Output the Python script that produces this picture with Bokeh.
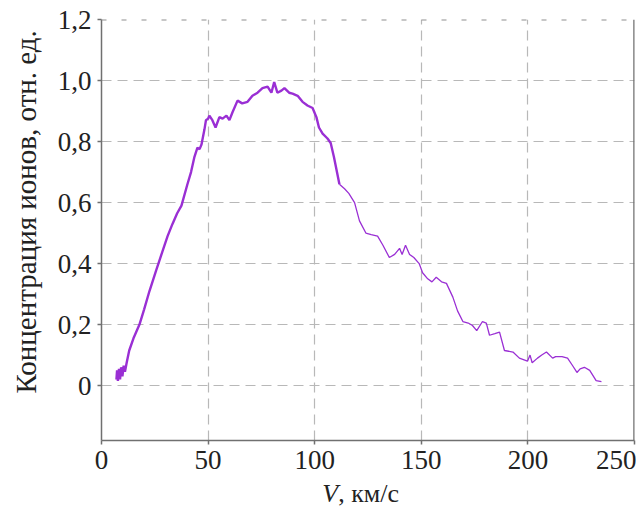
from bokeh.plotting import figure
from bokeh.layouts import column
from bokeh.models import Range1d, FixedTicker, CustomJSTickFormatter, Span
from bokeh.core.properties import value
from bokeh.embed import file_html
from bokeh.resources import INLINE

velocity = [7.0, 7.3, 7.7, 8.2, 8.7, 9.2, 9.8, 10.4, 11.0, 11.8, 13.0, 15.0, 17.8, 20.0,
            22.5, 25.6, 28.6, 31.0, 33.3, 35.5, 37.5, 40.3, 42.0, 43.6, 45.0, 46.0, 46.9,
            48.3, 49.0, 50.0, 50.6, 52.0, 53.5, 55.3, 56.8, 58.6, 60.0, 61.4, 63.8, 66.0,
            68.5, 70.8, 73.2, 75.5, 77.9, 79.7, 81.0, 82.5, 84.4, 85.8, 88.0, 89.6, 92.0,
            94.3, 96.6, 99.0, 100.8, 102.0, 103.7, 106.0, 107.5, 109.0, 111.6, 114.0,
            116.0, 118.7, 121.0, 124.0, 126.5, 129.5, 132.0, 135.0, 137.5, 139.8, 141.0,
            142.6, 144.5, 146.5, 149.0, 150.6, 153.0, 155.0, 157.0, 159.5, 161.8, 164.8,
            167.0, 169.5, 172.0, 174.0, 176.0, 178.7, 180.5, 182.0, 184.5, 186.7, 189.0,
            193.0, 196.0, 199.8, 201.0, 202.0, 204.5, 206.5, 208.7, 211.6, 213.0, 216.0,
            218.6, 221.0, 223.0, 224.5, 226.5, 229.0, 232.0, 234.5]
concentration = [0.02, 0.05, 0.015, 0.055, 0.02, 0.06, 0.03, 0.065, 0.045, 0.075, 0.115,
                 0.155, 0.20, 0.25, 0.31, 0.377, 0.44, 0.49, 0.53, 0.565, 0.59, 0.66, 0.70,
                 0.75, 0.78, 0.775, 0.79, 0.84, 0.87, 0.875, 0.885, 0.87, 0.846, 0.88, 0.875,
                 0.885, 0.87, 0.895, 0.934, 0.925, 0.93, 0.95, 0.96, 0.975, 0.98, 0.96, 0.995,
                 0.96, 0.967, 0.975, 0.96, 0.957, 0.95, 0.93, 0.918, 0.91, 0.88, 0.846, 0.826,
                 0.81, 0.795, 0.75, 0.66, 0.645, 0.63, 0.60, 0.54, 0.50, 0.495, 0.49, 0.46,
                 0.42, 0.43, 0.45, 0.43, 0.46, 0.43, 0.42, 0.40, 0.37, 0.35, 0.34, 0.355,
                 0.34, 0.335, 0.29, 0.245, 0.21, 0.205, 0.197, 0.18, 0.21, 0.205, 0.165,
                 0.17, 0.175, 0.115, 0.11, 0.09, 0.08, 0.10, 0.075, 0.09, 0.10, 0.11, 0.09,
                 0.095, 0.095, 0.09, 0.065, 0.043, 0.055, 0.06, 0.05, 0.016, 0.013]

x_ticks = [0, 50, 100, 150, 200, 250]
y_ticks = [0, 0.2, 0.4, 0.6, 0.8, 1.0, 1.2]
y_label = "\u00a0" * 5 + "Концентрация ионов, отн. ед."
x_label_var = ["V"]
x_label_unit = [", км/с"]
x_label_pos = [111.0]

FONT = "Liberation Serif"
AXIS_COLOR = "#707070"
GRID_COLOR = "#b8b8b8"
LINE_COLOR = "#9a2fd4"
TEXT_COLOR = "#222222"

W = 636
p = figure(width=W, height=478, output_backend="svg", toolbar_location=None,
           x_range=Range1d(0, 250), y_range=Range1d(-0.18, 1.2),
           min_border_left=101, min_border_right=2, min_border_top=19, min_border_bottom=38)
p.outline_line_color = None

p.xaxis.ticker = FixedTicker(ticks=x_ticks)
p.yaxis.ticker = FixedTicker(ticks=y_ticks)
p.yaxis.formatter = CustomJSTickFormatter(
    code='return tick == 0 ? "0" : tick.toFixed(1).replace(".", ",");')

for ax in (p.xaxis[0], p.yaxis[0]):
    ax.axis_line_color = AXIS_COLOR
    ax.axis_line_width = 1.5
    ax.major_tick_line_color = AXIS_COLOR
    ax.major_tick_line_width = 1.5
    ax.major_tick_out = 4
    ax.major_tick_in = 0
    ax.minor_tick_line_color = None
    ax.major_label_text_font = FONT
    ax.major_label_text_font_size = "27px"
    ax.major_label_text_color = TEXT_COLOR

p.xaxis.major_label_standoff = 6
p.yaxis.major_label_standoff = 6
p.yaxis.axis_label = y_label
p.yaxis.axis_label_text_font = FONT
p.yaxis.axis_label_text_font_size = "29px"
p.yaxis.axis_label_text_font_style = "normal"
p.yaxis.axis_label_text_color = TEXT_COLOR
p.yaxis.axis_label_standoff = 13

p.xgrid.ticker = FixedTicker(ticks=x_ticks)
p.ygrid.ticker = FixedTicker(ticks=y_ticks)
for g in (p.xgrid[0], p.ygrid[0]):
    g.grid_line_color = GRID_COLOR
    g.grid_line_dash = "10 6"
    g.grid_line_width = 1.2

# top dashed border and right solid border
p.add_layout(Span(location=1.2, dimension="width", line_color="#909090",
                  line_width=2, line_dash="5 15"))
p.add_layout(Span(location=250, dimension="height", line_color=AXIS_COLOR,
                  line_width=2.5))

split = 62
p.line(velocity[:split + 1], concentration[:split + 1], line_color=LINE_COLOR, line_width=2.4)
p.line(velocity[split:], concentration[split:], line_color=LINE_COLOR, line_width=1.3)

# x-axis title strip (italic V + units)
lab = figure(width=W, height=30, output_backend="svg", toolbar_location=None,
             x_range=p.x_range, y_range=Range1d(0, 1),
             min_border_left=101, min_border_right=2, min_border_top=0, min_border_bottom=0)
lab.axis.visible = False
lab.grid.visible = False
lab.outline_line_color = None
lab.text(x=x_label_pos, y=[0.49], text=x_label_var, text_align="right",
         text_baseline="alphabetic", text_font=value(FONT), text_font_size="26px",
         text_font_style="italic", text_color=TEXT_COLOR)
lab.text(x=x_label_pos, y=[0.49], text=x_label_unit, text_align="left",
         text_baseline="alphabetic", text_font=value(FONT), text_font_size="26px",
         text_color=TEXT_COLOR)

layout = column(p, lab, spacing=0)
open("out.html", "w").write(file_html(layout, INLINE))
